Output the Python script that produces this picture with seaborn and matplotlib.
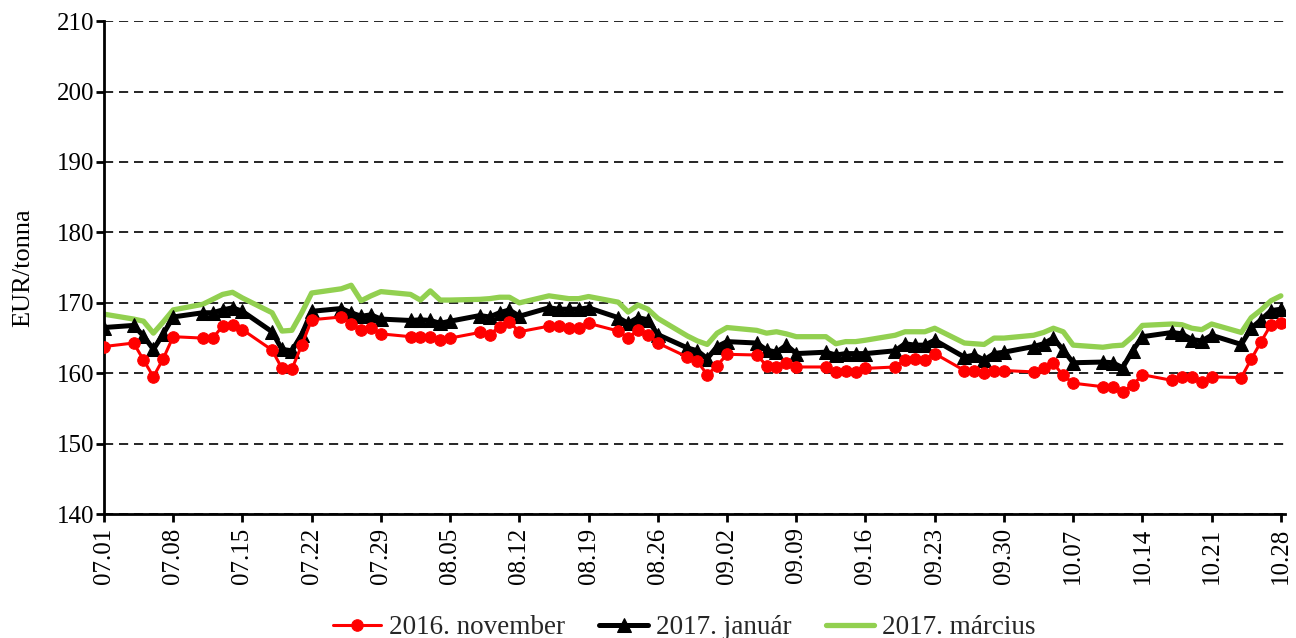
import matplotlib
matplotlib.use('Agg')
import matplotlib.pyplot as plt
import matplotlib.dates as mdates
import pandas as pd
import seaborn as sns

# Adatok (kereskedési napok 2016.07.01 - 2016.10.28)
start_date = '2016-07-01'
end_date = '2016-10-28'

nov_2016 = [
    163.8,
    164.3, 161.9, 159.5, 162.1, 165.2,
    165.0, 165.0, 166.7, 166.9, 166.2,
    163.3, 160.7, 160.6, 164.0, 167.6,
    168.0, 167.0, 166.2, 166.5, 165.6,
    165.2, 165.2, 165.2, 164.7, 165.0,
    165.8, 165.5, 166.6, 167.3, 165.9,
    166.7, 166.7, 166.4, 166.4, 167.1,
    166.0, 165.0, 166.2, 165.5, 164.3,
    162.3, 161.7, 159.8, 161.1, 162.7,
    162.6, 161.1, 160.9, 161.4, 160.9,
    160.9, 160.2, 160.3, 160.2, 160.7,
    160.9, 161.9, 162.1, 161.9, 162.8,
    160.4, 160.3, 160.0, 160.4, 160.4,
    160.2, 160.7, 161.4, 159.7, 158.6,
    158.1, 158.1, 157.4, 158.3, 159.8,
    159.0, 159.5, 159.5, 158.8, 159.5,
    159.4, 162.0, 164.5, 166.9, 167.1,
]

jan_2017 = [
    166.5,
    166.8, 165.3, 163.4, 165.6, 168.0,
    168.6, 168.6, 169.0, 169.3, 168.8,
    165.9, 163.4, 163.2, 165.5, 168.8,
    169.2, 168.6, 168.1, 168.3, 167.7,
    167.5, 167.6, 167.5, 167.1, 167.4,
    168.2, 168.0, 168.6, 169.0, 168.1,
    169.3, 169.1, 169.1, 169.1, 169.3,
    167.9, 167.1, 167.9, 167.6, 165.5,
    163.6, 163.2, 162.1, 163.8, 164.5,
    164.3, 163.3, 163.0, 164.0, 162.8,
    163.0, 162.6, 162.8, 162.8, 162.8,
    163.2, 164.2, 164.0, 164.0, 164.7,
    162.3, 162.6, 161.9, 162.8, 163.0,
    163.8, 164.2, 165.0, 163.3, 161.5,
    161.6, 161.5, 160.8, 163.2, 165.2,
    165.8, 165.6, 164.8, 164.6, 165.4,
    164.1, 166.4, 167.6, 168.9, 169.1,
]

mar_2017 = [
    168.4,
    167.7, 167.4, 165.7, 167.3, 169.0,
    169.8, 170.5, 171.2, 171.5, 170.7,
    168.6, 166.0, 166.1, 168.6, 171.4,
    172.0, 172.5, 170.3, 171.0, 171.6,
    171.2, 170.4, 171.7, 170.4, 170.4,
    170.5, 170.6, 170.8, 170.8, 170.0,
    171.0, 170.8, 170.6, 170.6, 170.9,
    170.1, 168.7, 169.7, 169.1, 167.8,
    165.3, 164.6, 164.1, 165.7, 166.5,
    166.1, 165.7, 165.9, 165.6, 165.2,
    165.2, 164.2, 164.5, 164.5, 164.7,
    165.4, 165.9, 165.9, 165.9, 166.4,
    164.3, 164.2, 164.1, 165.0, 165.0,
    165.4, 165.8, 166.4, 165.9, 164.0,
    163.7, 163.9, 164.0, 165.2, 166.8,
    167.0, 166.9, 166.4, 166.2, 167.0,
    165.8, 167.9, 169.0, 170.3, 171.0,
]

labels = ['2016. november', '2017. január', '2017. március']

dates = pd.bdate_range(start_date, end_date)
df = pd.DataFrame({'date': dates, 'nov': nov_2016, 'jan': jan_2017, 'mar': mar_2017})

sns.set_style('white')
plt.rcParams['font.family'] = ['Liberation Serif', 'DejaVu Serif']

fig, ax = plt.subplots(figsize=(12.96, 6.38), dpi=100)
fig.subplots_adjust(left=0.0802, right=0.9915, bottom=0.194, top=0.967)

# zöld alul, fekete középen, piros felül
sns.lineplot(data=df, x='date', y='mar', ax=ax, color='#92D050', linewidth=3.8,
             label=labels[2], zorder=2)
sns.lineplot(data=df, x='date', y='jan', ax=ax, color='black', linewidth=3.6,
             marker='^', markersize=9.5, markeredgecolor='black', label=labels[1], zorder=3)
sns.lineplot(data=df, x='date', y='nov', ax=ax, color='#FF0000', linewidth=2.2,
             marker='o', markersize=8.3, markeredgecolor='#FF0000', label=labels[0], zorder=4)

ax.set_ylim(140, 210)
ax.set_yticks(range(140, 211, 10))
ax.set_xlim(pd.Timestamp(start_date), pd.Timestamp(end_date) + pd.Timedelta(hours=10))
ax.set_xticks(pd.date_range(start_date, end_date, freq='7D'))
ax.xaxis.set_major_formatter(mdates.DateFormatter('%m.%d'))
plt.setp(ax.get_xticklabels(), rotation=90)

ax.yaxis.grid(True, linestyle=(0, (5.5, 3.5)), color='black', linewidth=1.2)
ax.xaxis.grid(False)
ax.set_axisbelow(True)

for side in ['top', 'right']:
    ax.spines[side].set_visible(False)
for side in ['left', 'bottom']:
    ax.spines[side].set_color('black')
    ax.spines[side].set_linewidth(2)

ax.tick_params(axis='both', direction='out', length=6, width=2, color='black',
               labelsize=18, labelcolor='black', bottom=True, left=True)
ax.tick_params(axis='y', pad=1)

ax.set_xlabel('')
ax.set_ylabel('EUR/tonna', fontsize=19, color='black', labelpad=16)

handles, leg_labels = ax.get_legend_handles_labels()
order = [leg_labels.index(l) for l in labels]
ax.legend_.remove()
fig.legend([handles[i] for i in order], [leg_labels[i] for i in order],
           loc='center', bbox_to_anchor=(0.528, 0.016), ncol=3, frameon=False,
           fontsize=19.5, handlelength=1.8, columnspacing=1.25, handletextpad=0.3)

fig.savefig('out.png', dpi=100)
